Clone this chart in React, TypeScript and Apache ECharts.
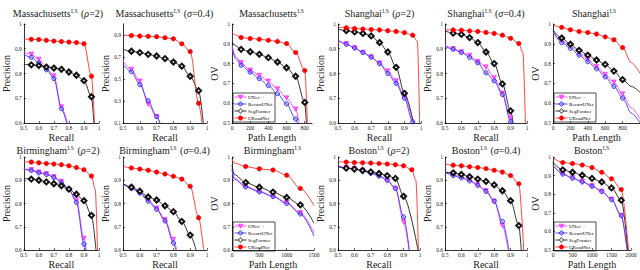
import React, { useEffect, useRef } from 'react';
import * as echarts from 'echarts';

const FONT = '"Liberation Serif", "Times New Roman", serif';

const methods = ['UNet++', 'RecurrUNet', 'SegFormer', 'URoadNet'];

// Shared x grids
const recallX = [0.5, 0.55, 0.6, 0.65, 0.7, 0.75, 0.8, 0.85, 0.9, 0.95];
const recallMarks = [0.55, 0.6, 0.65, 0.7, 0.75, 0.8, 0.85, 0.9, 0.95];
const massOvX = [0, 40, 100, 200, 300, 400, 500, 600, 700, 800];
const massOvMarks = [100, 200, 300, 400, 500, 600, 700, 800];
const shOvX = [0, 100, 200, 300, 400, 500, 600, 700, 800, 900];
const shOvMarks = [100, 200, 300, 400, 500, 600, 700, 800];
const birOvX = [0, 40, 250, 500, 750, 1000, 1250, 1500];
const birOvMarks = [250, 500, 750, 1000, 1250];
const bosOvX = [0, 250, 500, 750, 1000, 1250, 1500, 1750];
const bosOvMarks = [250, 500, 750, 1000, 1250, 1500, 1750];

// Panel 1: Massachusetts (rho=2)
const p1Unet = [0.885, 0.878, 0.857, 0.823, 0.79, 0.665];
const p1Recurr = [0.877, 0.865, 0.843, 0.815, 0.78, 0.658];
const p1Seg = [0.837, 0.835, 0.832, 0.826, 0.822, 0.817, 0.806, 0.793, 0.771, 0.706];
const p1Uroad = [0.94, 0.938, 0.937, 0.934, 0.931, 0.929, 0.927, 0.925, 0.92, 0.789];
const p1Tails = [[[0.79, 0.6]], [[0.785, 0.6]], [[0.966, 0.6]], [[0.97, 0.6]]];

// Panel 2: Massachusetts (sigma=0.4)
const p2Unet = [0.665, 0.587, 0.48, 0.27, 0.158];
const p2Recurr = [0.63, 0.566, 0.449, 0.302, 0.158];
const p2Seg = [0.77, 0.752, 0.74, 0.724, 0.709, 0.685, 0.654, 0.617, 0.525, 0.394];
const p2Uroad = [0.9, 0.895, 0.89, 0.888, 0.885, 0.875, 0.865, 0.82, 0.75, 0.28];
const p2Tails = [[[0.72, 0.1]], [[0.72, 0.1]], [[0.978, 0.1]], [[0.97, 0.1]]];

// Panel 3: Massachusetts OV
const p3Unet = [0.89, 0.835, 0.804, 0.767, 0.74, 0.711, 0.672, 0.626, 0.57];
const p3Recurr = [0.88, 0.825, 0.792, 0.757, 0.724, 0.689, 0.648, 0.597, 0.52];
const p3Seg = [0.91, 0.89, 0.872, 0.86, 0.847, 0.83, 0.808, 0.779, 0.736, 0.604];
const p3Uroad = [0.958, 0.945, 0.932, 0.927, 0.923, 0.918, 0.912, 0.901, 0.856, 0.765];
const p3Tails = [[[737, 0.5]], [[720, 0.5]], [[818, 0.5]], [[829, 0.5]]];

// Panel 4: Shanghai (rho=2)
const p4Unet = [0.933, 0.92, 0.903, 0.885, 0.867, 0.842, 0.81, 0.77, 0.705];
const p4Recurr = [0.935, 0.918, 0.903, 0.885, 0.866, 0.84, 0.8, 0.76, 0.7, 0.605];
const p4Seg = [0.98, 0.973, 0.968, 0.962, 0.952, 0.925, 0.887, 0.825, 0.72];
const p4Uroad = [0.988, 0.985, 0.982, 0.98, 0.978, 0.976, 0.973, 0.97, 0.965, 0.955];
const p4Tails = [[[0.952, 0.6]], [[0.955, 0.6]], [[0.955, 0.6]], [[0.978, 0.93], [0.992, 0.6]]];

// Panel 5: Shanghai (sigma=0.4)
const p5Unet = [0.915, 0.9, 0.887, 0.873, 0.848, 0.826, 0.782, 0.72, 0.62];
const p5Recurr = [0.91, 0.898, 0.885, 0.865, 0.843, 0.803, 0.77, 0.715, 0.605];
const p5Seg = [0.972, 0.963, 0.958, 0.945, 0.925, 0.887, 0.84, 0.758, 0.649];
const p5Uroad = [0.977, 0.976, 0.975, 0.972, 0.97, 0.966, 0.962, 0.955, 0.942, 0.921];
const p5Tails = [[[0.91, 0.6]], [[0.905, 0.6]], [[0.915, 0.6]], [[0.975, 0.885], [0.99, 0.6]]];

// Panel 6: Shanghai OV
const p6Unet = [0.96, 0.915, 0.89, 0.856, 0.821, 0.784, 0.745, 0.706, 0.646, 0.576];
const p6Recurr = [0.965, 0.906, 0.877, 0.843, 0.81, 0.774, 0.733, 0.685, 0.626, 0.55];
const p6Seg = [0.97, 0.929, 0.898, 0.867, 0.843, 0.818, 0.796, 0.762, 0.719, 0.685];
const p6Uroad = [0.995, 0.983, 0.971, 0.962, 0.957, 0.949, 0.935, 0.92, 0.881, 0.805];
const p6Tails = [[[1000, 0.52]], [[1000, 0.5]], [[1000, 0.655]], [[1000, 0.75]]];

// Panel 7: Birmingham (rho=2)
const p7Unet = [0.95, 0.945, 0.935, 0.928, 0.915, 0.895, 0.86, 0.815, 0.65];
const p7Recurr = [0.948, 0.942, 0.932, 0.925, 0.912, 0.89, 0.86, 0.805, 0.625];
const p7Seg = [0.908, 0.905, 0.9, 0.893, 0.885, 0.876, 0.862, 0.84, 0.812, 0.749];
const p7Uroad = [0.98, 0.978, 0.975, 0.972, 0.97, 0.967, 0.962, 0.955, 0.945, 0.918];
const p7Tails = [[[0.915, 0.6]], [[0.91, 0.6]], [[0.98, 0.6]], [[0.975, 0.86], [0.99, 0.6]]];

// Panel 8: Birmingham (sigma=0.4)
const p8Unet = [0.885, 0.87, 0.85, 0.815, 0.78, 0.73, 0.645];
const p8Recurr = [0.885, 0.865, 0.845, 0.81, 0.775, 0.725, 0.63];
const p8Seg = [0.885, 0.87, 0.853, 0.828, 0.815, 0.79, 0.765, 0.723, 0.664];
const p8Uroad = [0.96, 0.953, 0.948, 0.943, 0.935, 0.927, 0.917, 0.905, 0.874, 0.739];
const p8Tails = [[[0.82, 0.6]], [[0.815, 0.6]], [[0.935, 0.6]], [[0.98, 0.6]]];

// Panel 9: Birmingham OV
const p9Unet = [0.95, 0.91, 0.874, 0.853, 0.832, 0.804, 0.76, 0.674];
const p9Recurr = [0.945, 0.905, 0.871, 0.85, 0.83, 0.8, 0.755, 0.66];
const p9Seg = [0.965, 0.925, 0.89, 0.87, 0.849, 0.826, 0.794, 0.715];
const p9Uroad = [0.989, 0.975, 0.959, 0.949, 0.944, 0.922, 0.865, 0.791];
const p9Tails = [[], [], [], []];

// Panel 10: Boston (rho=2)
const p10Unet = [0.96, 0.955, 0.95, 0.943, 0.933, 0.922, 0.9, 0.865, 0.72];
const p10Recurr = [0.958, 0.952, 0.948, 0.94, 0.93, 0.918, 0.9, 0.865, 0.742];
const p10Seg = [0.96, 0.952, 0.948, 0.942, 0.936, 0.929, 0.92, 0.908, 0.831];
const p10Uroad = [0.98, 0.978, 0.976, 0.975, 0.974, 0.972, 0.97, 0.967, 0.962, 0.945];
const p10Tails = [[[0.933, 0.6]], [[0.935, 0.6]], [[0.988, 0.6]], [[0.975, 0.9], [0.99, 0.6]]];

// Panel 11: Boston (sigma=0.4)
const p11Unet = [0.935, 0.925, 0.915, 0.902, 0.88, 0.855, 0.81, 0.705];
const p11Recurr = [0.935, 0.92, 0.91, 0.897, 0.878, 0.852, 0.81, 0.723];
const p11Seg = [0.935, 0.932, 0.925, 0.915, 0.905, 0.895, 0.88, 0.855, 0.812, 0.705];
const p11Uroad = [0.97, 0.965, 0.962, 0.958, 0.955, 0.95, 0.943, 0.935, 0.92, 0.885];
const p11Tails = [[[0.885, 0.6]], [[0.89, 0.6]], [[0.965, 0.6]], [[0.98, 0.6]]];

// Panel 12: Boston OV
const p12Unet = [0.955, 0.91, 0.888, 0.868, 0.845, 0.816, 0.773, 0.686];
const p12Recurr = [0.955, 0.908, 0.886, 0.866, 0.843, 0.814, 0.771, 0.684];
const p12Seg = [0.97, 0.931, 0.918, 0.902, 0.885, 0.866, 0.834, 0.768];
const p12Uroad = [0.996, 0.97, 0.965, 0.957, 0.943, 0.918, 0.883, 0.825];
const p12Tails = [[[1900, 0.5]], [[1900, 0.5]], [[1920, 0.5]], [[1935, 0.5]]];

// Titles
const cities = ['Massachusetts', 'Shanghai', 'Birmingham', 'Boston'];
const suffixes = [['ρ', '=2)'], ['σ', '=0.4)'], null];

type Panel = {
  x: number[]; marks: number[]; ys: number[][]; tails: number[][][];
  kind: 'pr' | 'ov'; xMax: number; xInt: number; yMin: number; yMax: number; yInt: number;
  left: number; top: number; width: number; height: number; city: number; sfx: number;
  legend?: boolean; hideMaxX?: boolean; hideMaxY?: boolean;
};

const ROW1 = { top: 24, height: 99 };
const ROW2 = { top: 157, height: 95 };

const panels: Panel[] = [
  { x: recallX, marks: recallMarks, ys: [p1Unet, p1Recurr, p1Seg, p1Uroad], tails: p1Tails, kind: 'pr', xMax: 1, xInt: 0.1, yMin: 0.6, yMax: 1, yInt: 0.1, left: 17, width: 82, ...ROW1, city: 0, sfx: 0 },
  { x: recallX, marks: recallMarks, ys: [p2Unet, p2Recurr, p2Seg, p2Uroad], tails: p2Tails, kind: 'pr', xMax: 1, xInt: 0.1, yMin: 0.1, yMax: 1, yInt: 0.2, left: 123, width: 84, ...ROW1, city: 0, sfx: 1, hideMaxY: true },
  { x: massOvX, marks: massOvMarks, ys: [p3Unet, p3Recurr, p3Seg, p3Uroad], tails: p3Tails, kind: 'ov', xMax: 880, xInt: 200, yMin: 0.5, yMax: 1, yInt: 0.1, left: 232, width: 80, ...ROW1, city: 0, sfx: 2, legend: true, hideMaxX: true },
  { x: recallX, marks: recallMarks, ys: [p4Unet, p4Recurr, p4Seg, p4Uroad], tails: p4Tails, kind: 'pr', xMax: 1, xInt: 0.1, yMin: 0.6, yMax: 1, yInt: 0.1, left: 338, width: 83, ...ROW1, city: 1, sfx: 0 },
  { x: recallX, marks: recallMarks, ys: [p5Unet, p5Recurr, p5Seg, p5Uroad], tails: p5Tails, kind: 'pr', xMax: 1, xInt: 0.1, yMin: 0.6, yMax: 1, yInt: 0.1, left: 445, width: 82, ...ROW1, city: 1, sfx: 1 },
  { x: shOvX, marks: shOvMarks, ys: [p6Unet, p6Recurr, p6Seg, p6Uroad], tails: p6Tails, kind: 'ov', xMax: 1000, xInt: 200, yMin: 0.5, yMax: 1, yInt: 0.1, left: 553, width: 89, ...ROW1, city: 1, sfx: 2, legend: true, hideMaxX: true },
  { x: recallX, marks: recallMarks, ys: [p7Unet, p7Recurr, p7Seg, p7Uroad], tails: p7Tails, kind: 'pr', xMax: 1, xInt: 0.1, yMin: 0.6, yMax: 1, yInt: 0.1, left: 17, width: 82, ...ROW2, city: 2, sfx: 0 },
  { x: recallX, marks: recallMarks, ys: [p8Unet, p8Recurr, p8Seg, p8Uroad], tails: p8Tails, kind: 'pr', xMax: 1, xInt: 0.1, yMin: 0.6, yMax: 1, yInt: 0.1, left: 123, width: 84, ...ROW2, city: 2, sfx: 1 },
  { x: birOvX, marks: birOvMarks, ys: [p9Unet, p9Recurr, p9Seg, p9Uroad], tails: p9Tails, kind: 'ov', xMax: 1500, xInt: 500, yMin: 0.6, yMax: 1, yInt: 0.1, left: 232, width: 82, ...ROW2, city: 2, sfx: 2, legend: true },
  { x: recallX, marks: recallMarks, ys: [p10Unet, p10Recurr, p10Seg, p10Uroad], tails: p10Tails, kind: 'pr', xMax: 1, xInt: 0.1, yMin: 0.6, yMax: 1, yInt: 0.1, left: 338, width: 82, ...ROW2, city: 3, sfx: 0 },
  { x: recallX, marks: recallMarks, ys: [p11Unet, p11Recurr, p11Seg, p11Uroad], tails: p11Tails, kind: 'pr', xMax: 1, xInt: 0.1, yMin: 0.6, yMax: 1, yInt: 0.1, left: 445, width: 82, ...ROW2, city: 3, sfx: 1 },
  { x: bosOvX, marks: bosOvMarks, ys: [p12Unet, p12Recurr, p12Seg, p12Uroad], tails: p12Tails, kind: 'ov', xMax: 2000, xInt: 500, yMin: 0.5, yMax: 1, yInt: 0.1, left: 553, width: 78, ...ROW2, city: 3, sfx: 2, legend: true },
];

const lineColors = ['#ff44ff', '#3c3cff', '#1a1a1a', '#ff3030'];
const symbols = ['triangle', 'circle', 'emptyDiamond', 'circle'];
const symbolRot = [180, 0, 0, 0];
const symbolSizes = [4.5, 4.2, 5, 4.6];
const itemStyles = [
  { color: '#ff66ff', borderColor: '#ee00ee', borderWidth: 0.5 },
  { color: 'rgba(110,110,255,0.3)', borderColor: '#2020ff', borderWidth: 0.9 },
  { color: '#111', borderColor: '#111', borderWidth: 0.8 },
  { color: '#ff0000', borderColor: '#ff0000', borderWidth: 0.4 },
];

const fmt = (v: number) => String(Math.round(v * 1000) / 1000);

// Legend box drawn as a graphic group (icons are legend glyphs, not data marks)
function legendGroup(left: number, top: number) {
  const W = 42, ROWH = 7, H = ROWH * methods.length + 1;
  const children: any[] = [
    { type: 'rect', shape: { x: 0, y: 0, width: W, height: H }, style: { fill: '#fff', stroke: '#000', lineWidth: 0.7 } },
  ];
  methods.forEach((name, m) => {
    const cy = 4 + m * ROWH;
    const cx = 7.5;
    children.push({ type: 'line', shape: { x1: 1.5, y1: cy, x2: 13.5, y2: cy }, style: { stroke: lineColors[m], lineWidth: 0.9 } });
    if (m === 0) {
      children.push({ type: 'polygon', shape: { points: [[cx - 2.4, cy - 1.8], [cx + 2.4, cy - 1.8], [cx, cy + 2.3]] }, style: { fill: itemStyles[0].color, stroke: itemStyles[0].borderColor, lineWidth: 0.5 } });
    } else if (m === 1) {
      children.push({ type: 'circle', shape: { cx, cy, r: 2 }, style: { fill: itemStyles[1].color, stroke: itemStyles[1].borderColor, lineWidth: 0.9 } });
    } else if (m === 2) {
      children.push({ type: 'polygon', shape: { points: [[cx, cy - 2.5], [cx + 2, cy], [cx, cy + 2.5], [cx - 2, cy]] }, style: { fill: '#fff', stroke: '#111', lineWidth: 0.8 } });
    } else {
      children.push({ type: 'circle', shape: { cx, cy, r: 2.2 }, style: { fill: '#ff0000', stroke: '#ff0000', lineWidth: 0.4 } });
    }
    children.push({ type: 'text', x: 15, y: cy, style: { text: name, fontFamily: FONT, fontSize: 5, fill: '#000', verticalAlign: 'middle', align: 'left' } });
  });
  return { type: 'group', x: left, y: top, z: 30, children };
}

function buildOption() {
  const grid: any[] = [];
  const xAxis: any[] = [];
  const yAxis: any[] = [];
  const series: any[] = [];
  const graphic: any[] = [];
  const axisBase = {
    axisLine: { show: true, lineStyle: { color: '#000', width: 0.8 } },
    axisTick: { show: true, inside: true, length: 2, lineStyle: { color: '#000', width: 0.6 } },
    splitLine: { show: false },
    nameTextStyle: { fontFamily: FONT, fontSize: 10, color: '#222' },
  };
  panels.forEach((p, k) => {
    grid.push({ id: 'g' + k, left: p.left, top: p.top, width: p.width, height: p.height, containLabel: false });
    xAxis.push({
      ...axisBase,
      id: 'x' + k, type: 'value', gridIndex: k,
      min: p.kind === 'pr' ? 0.5 : 0, max: p.xMax, interval: p.xInt,
      name: p.kind === 'pr' ? 'Recall' : 'Path Length', nameLocation: 'middle', nameGap: 9,
      axisLabel: { fontFamily: FONT, fontSize: 5.5, color: '#222', margin: 2, showMaxLabel: !p.hideMaxX, formatter: fmt },
    });
    yAxis.push({
      ...axisBase,
      id: 'y' + k, type: 'value', gridIndex: k,
      min: p.yMin, max: p.yMax, interval: p.yInt,
      name: p.kind === 'pr' ? 'Precision' : 'OV', nameLocation: 'middle', nameGap: 11,
      axisLabel: { fontFamily: FONT, fontSize: 5.5, color: '#222', margin: 2, showMaxLabel: !p.hideMaxY, formatter: fmt },
    });
    p.ys.forEach((ys, m) => {
      const data: any[] = [];
      ys.forEach((v, i) => {
        const xv = p.x[i];
        data.push({ value: [xv, v], symbol: p.marks.some((q) => Math.abs(q - xv) < 1e-9) ? symbols[m] : 'none' });
      });
      p.tails[m].forEach((t) => data.push({ value: t, symbol: 'none' }));
      series.push({
        id: 's' + k + '_' + m,
        type: 'line', name: methods[m], xAxisIndex: k, yAxisIndex: k, data,
        smooth: 0.3, smoothMonotone: 'x', showAllSymbol: true,
        symbol: symbols[m], symbolSize: symbolSizes[m], symbolRotate: symbolRot[m],
        lineStyle: { color: lineColors[m], width: 0.9 },
        itemStyle: itemStyles[m], color: lineColors[m],
        clip: true,
      });
    });
    if (p.legend) {
      graphic.push(legendGroup(p.left + 1, p.top + p.height - 30));
    }
    const sf = suffixes[p.sfx];
    const text = sf
      ? `{n|${cities[p.city]}}{s|LS}{n| (}{i|${sf[0]}}{n|${sf[1]}}`
      : `{n|${cities[p.city]}}{s|LS}`;
    graphic.push({
      type: 'text', x: p.left + Math.min(p.width, 83) / 2, y: p.top - (k < 6 ? 11 : 7), z: 10,
      style: {
        text, align: 'center', verticalAlign: 'middle',
        rich: {
          n: { fontFamily: FONT, fontSize: 10, fill: '#222', color: '#222' },
          i: { fontFamily: FONT, fontSize: 10, fontStyle: 'italic', fill: '#222', color: '#222' },
          s: { fontFamily: FONT, fontSize: 5.5, fill: '#222', color: '#222', verticalAlign: 'top', padding: [0, 1, 0, 0.5] },
        },
      },
    });
  });
  return { animation: false, backgroundColor: '#fff', grid, xAxis, yAxis, series, graphic };
}

export default function App() {
  const ref = useRef<HTMLDivElement>(null);
  useEffect(() => {
    if (!ref.current) return;
    const chart = echarts.init(ref.current, undefined, { renderer: 'svg' });
    chart.setOption(buildOption() as any);
    return () => chart.dispose();
  }, []);
  return <div ref={ref} style={{ position: 'absolute', left: 0, top: 0, width: 640, height: 270 }} />;
}
